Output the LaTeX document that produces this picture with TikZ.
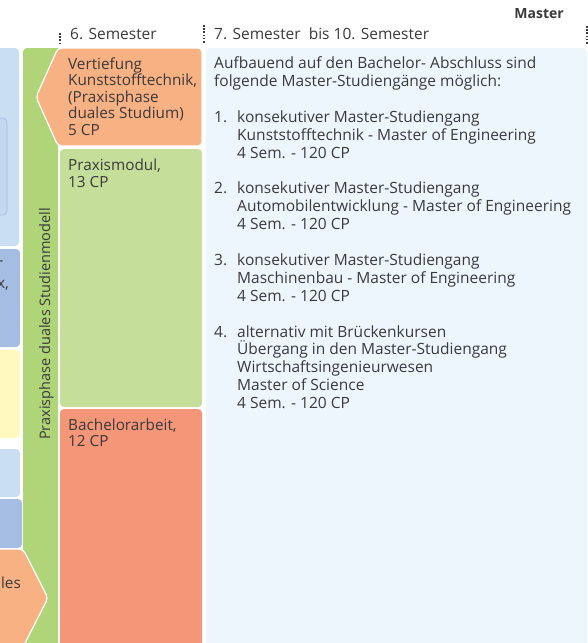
\documentclass[tikz,border=0pt]{standalone}
\usepackage{fontspec}
\setmainfont{Open Sans}
\usepackage{xcolor}
\definecolor{ink}{HTML}{3A3A3A}
\definecolor{paleblue}{HTML}{C9DEF3}
\definecolor{innerblue}{HTML}{C3D8F0}
\definecolor{midblue}{HTML}{A4BDE0}
\definecolor{paleyellow}{HTML}{FFF8BF}
\definecolor{bargreen}{HTML}{B0D478}
\definecolor{boxgreen}{HTML}{C5DF9B}
\definecolor{lightorange}{HTML}{F8B183}
\definecolor{salmon}{HTML}{F59678}
\definecolor{masterbg}{HTML}{EEF6FD}

\begin{document}
\begin{tikzpicture}[x=1pt, y=-1pt,
  every node/.style={inner sep=0pt, text=ink, align=left},
  lbl/.style={anchor=base west, font=\fontsize{15.3}{16.6}\selectfont},
  txt/.style={anchor=base west, font=\fontsize{15.5}{17.9}\selectfont},
  box/.style={rounded corners=4pt},
  dots/.style={line width=2pt, draw=ink, dash pattern=on 1.6pt off 1.6pt}]
  % page size, pixels of the reference
  \useasboundingbox (0,0) rectangle (588,643);
  \clip (0,0) rectangle (588,643);
  % multi-line nodes sit on the baseline of their last line

  % cut-off column on the left
  \fill[box, paleblue] (-40,48) rectangle (19,246);
  \filldraw[box, fill=innerblue, draw=midblue, line width=0.6pt] (-40,118) rectangle (7,215);
  \fill[box, midblue] (-40,249) rectangle (20,347);
  \fill[box, paleyellow] (-40,350) rectangle (20,438);
  \fill[box, paleblue] (-40,449) rectangle (20,497);
  \fill[box, midblue] (-40,499) rectangle (22,548);
  \node[lbl, anchor=base east] (frag1) at (3.5,265) {-};
  \node[lbl, anchor=base east] (frag2) at (9,288) {x,};

  % green bar
  \fill[box, bargreen] (23,48) rectangle (58,660);
  \fill[bargreen] (50,48) rectangle (58,60);
  \node[rotate=90, anchor=base, font=\fontsize{14.5}{16}\selectfont] (dual) at (50,324)
    {Praxisphase duales Studienmodell};

  \filldraw[box, fill=lightorange, draw=white, line width=1.2pt]
    (-40,549) -- (23,549) -- (48,598) -- (23,647) -- (-40,647) -- cycle;
  \node[lbl, anchor=base east] (frag3) at (21,588) {les};

  % 6. semester
  \filldraw[box, fill=lightorange, draw=white, line width=1.2pt]
    (58,48) -- (202,48) -- (202,146) -- (58,146) -- (36,97) -- cycle;
  \fill[box, boxgreen] (60,149) rectangle (202,407);
  \fill[box, salmon] (60,409) rectangle (202,660);
  \node[lbl] (vertief) at (68,135.4)
    {Vertiefung\\Kunststofftechnik,\\(Praxisphase\\duales Studium)\\5 CP};
  \node[lbl] (praxis) at (68,187.5) {Praxismodul,\\13 CP};
  \node[lbl] (bachelor) at (68,446.7) {Bachelorarbeit,\\12 CP};

  % master
  \fill[box, masterbg] (206,48) rectangle (587,660);
  \node[txt] (intro) at (214,86.2)
    {Aufbauend auf den Bachelor- Abschluss sind\\folgende Master-Studiengänge möglich:};
  \node[txt] (n1) at (214,122.7) {1.};
  \node[txt] (m1) at (237,158.5)
    {konsekutiver Master-Studiengang\\Kunststofftechnik - Master of Engineering\\4 Sem. - 120 CP};
  \node[txt] (n2) at (214,193.3) {2.};
  \node[txt] (m2) at (237,229.1)
    {konsekutiver Master-Studiengang\\Automobilentwicklung - Master of Engineering\\4 Sem. - 120 CP};
  \node[txt] (n3) at (214,265.5) {3.};
  \node[txt] (m3) at (237,301.3)
    {konsekutiver Master-Studiengang\\Maschinenbau - Master of Engineering\\4 Sem. - 120 CP};
  \node[txt] (n4) at (214,337) {4.};
  \node[txt] (m4) at (237,408.6)
    {alternativ mit Brückenkursen\\Übergang in den Master-Studiengang\\Wirtschaftsingenieurwesen\\Master of Science\\4 Sem. - 120 CP};

  % header
  \node[txt, anchor=base east, font=\fontsize{14}{16}\selectfont\bfseries] (master) at (564,18.3) {Master};
  \node[txt] (sem6) at (70,39.3) {6. Semester};
  \node[txt] (sem7) at (214,39.3) {7. Semester~ bis 10. Semester};
  \draw[dots] (59.5,33) -- (59.5,44);
  \draw[dots] (203.5,25) -- (203.5,44);
  \draw[dots] (586.5,26) -- (586.5,44);
\end{tikzpicture}
\end{document}
